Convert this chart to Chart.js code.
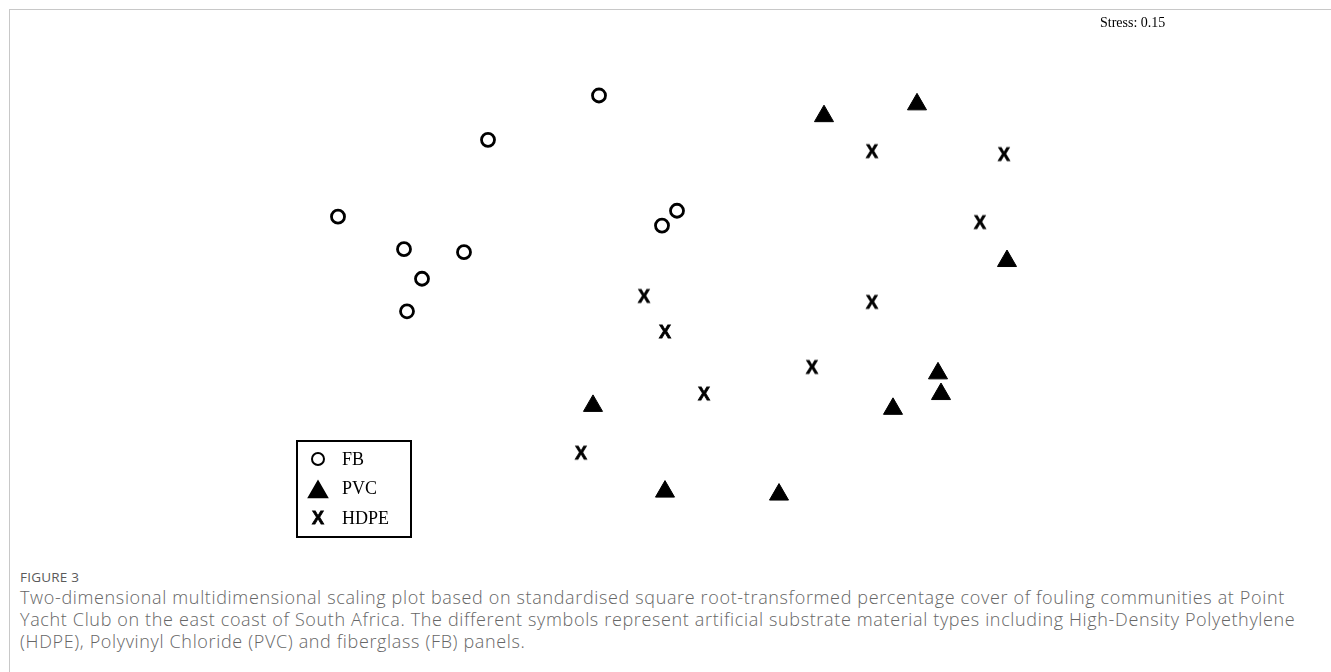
<!DOCTYPE html>
<html>
<head>
<meta charset="utf-8">
<script src="https://cdn.jsdelivr.net/npm/chart.js@4"></script>
<style>
    body { margin: 0; background: #fff; width: 1331px; height: 672px; overflow: hidden; position: relative; }
    #frame { position: absolute; left: 9px; top: 9px; right: 0; bottom: 0; border-top: 1px solid #c8c8c8; border-left: 1px solid #c8c8c8; }
    #chart-wrap { position: absolute; left: 0; top: 0; width: 1331px; height: 545px; }
    #caption { position: absolute; left: 20px; top: 566px; font-family: "Open Sans", sans-serif; color: #666; white-space: nowrap; }
    #caption .fig { font-size: 13.5px; letter-spacing: 0.2px; line-height: 22px; color: #5a5a5a; }
    #caption .txt { font-size: 18px; letter-spacing: 0.65px; line-height: 22px; margin-top: -2px; font-weight: 300; }
</style>
</head>
<body>
<div id="frame"></div>
<div id="chart-wrap"><canvas id="mds"></canvas></div>
<div id="caption">
    <div class="fig">FIGURE 3</div>
    <div class="txt">Two-dimensional multidimensional scaling plot based on standardised square root-transformed percentage cover of fouling communities at Point<br>Yacht Club on the east coast of South Africa. The different symbols represent artificial substrate material types including High-Density Polyethylene<br>(HDPE), Polyvinyl Chloride (PVC) and fiberglass (FB) panels.</div>
</div>
<script>
// nMDS coordinates (axes are unlabelled)
const fbX = [-0.22, -0.59, -1.09, -0.87, -0.67, -0.81, -0.86, 0.04, -0.01];
const fbY = [0.68, 0.53, 0.27, 0.16, 0.15, 0.06, -0.05, 0.29, 0.24];
const pvcX = [0.53, 0.84, 1.14, 0.91, 0.92, 0.76, -0.24, 0.00, 0.38];
const pvcY = [0.61, 0.65, 0.12, -0.26, -0.33, -0.38, -0.37, -0.66, -0.67];
const hdpeX = [0.69, 1.13, 1.05, -0.07, 0.00, 0.69, 0.49, 0.13, -0.28];
const hdpeY = [0.49, 0.48, 0.25, 0.00, -0.12, -0.02, -0.24, -0.33, -0.53];
const groups = ['FB', 'PVC', 'HDPE'];
const stressLabel = 'Stress: 0.15';

function toPoints(xs, ys) {
    return xs.map((x, i) => ({ x: x, y: ys[i] }));
}

// HDPE samples are marked with a bold letter X
function makeXMarker() {
    const c = document.createElement('canvas');
    c.width = 18;
    c.height = 20;
    const g = c.getContext('2d');
    g.fillStyle = '#000';
    g.strokeStyle = '#000';
    g.lineWidth = 0.8;
    g.font = 'bold 18px "Liberation Sans", Arial, sans-serif';
    g.textAlign = 'center';
    g.textBaseline = 'alphabetic';
    g.fillText('X', 9, 16);
    g.strokeText('X', 9, 16);
    return c;
}
const xMarker = makeXMarker();

const legendBox = {
    id: 'legendBox',
    afterDraw(chart) {
        const ctx = chart.ctx;
        ctx.save();
        ctx.strokeStyle = '#000';
        ctx.lineWidth = 2;
        ctx.strokeRect(297, 441, 114, 96);

        ctx.strokeStyle = '#000';
        ctx.fillStyle = '#fff';
        Chart.helpers.drawPoint(ctx, { pointStyle: 'circle', radius: 6, borderWidth: 2.8, rotation: 0 }, 318, 459);
        ctx.fillStyle = '#000';
        Chart.helpers.drawPoint(ctx, { pointStyle: 'triangle', radius: 10.5, borderWidth: 1, rotation: 0 }, 318, 492);
        ctx.drawImage(xMarker, 309, 508);

        ctx.fillStyle = '#000';
        ctx.font = '18px "Liberation Serif", "Times New Roman", serif';
        ctx.textBaseline = 'alphabetic';
        ctx.fillText(groups[0], 342, 465);
        ctx.fillText(groups[1], 342, 494);
        ctx.fillText(groups[2], 342, 524);

        ctx.font = '14px "Liberation Serif", "Times New Roman", serif';
        ctx.fillText(stressLabel, 1100, 27);
        ctx.restore();
    }
};

new Chart(document.getElementById('mds'), {
    type: 'scatter',
    data: {
        datasets: [
            {
                label: groups[0],
                data: toPoints(fbX, fbY),
                pointStyle: 'circle',
                pointRadius: 6.5,
                pointBorderWidth: 2.8,
                borderColor: '#000',
                backgroundColor: '#fff'
            },
            {
                label: groups[1],
                data: toPoints(pvcX, pvcY),
                pointStyle: 'triangle',
                pointRadius: 11,
                pointBorderWidth: 1,
                borderColor: '#000',
                backgroundColor: '#000'
            },
            {
                label: groups[2],
                data: toPoints(hdpeX, hdpeY),
                pointStyle: xMarker,
                pointRadius: 8,
                borderColor: '#000',
                backgroundColor: '#000'
            }
        ]
    },
    options: {
        responsive: true,
        maintainAspectRatio: false,
        animation: false,
        layout: { padding: { left: 215, right: 216, top: 60, bottom: 5 } },
        scales: {
            x: { type: 'linear', min: -1.5, max: 1.5, display: false },
            y: { type: 'linear', min: -0.8, max: 0.8, display: false }
        },
        plugins: {
            legend: { display: false },
            tooltip: { enabled: false }
        }
    },
    plugins: [legendBox]
});
</script>
</body>
</html>
